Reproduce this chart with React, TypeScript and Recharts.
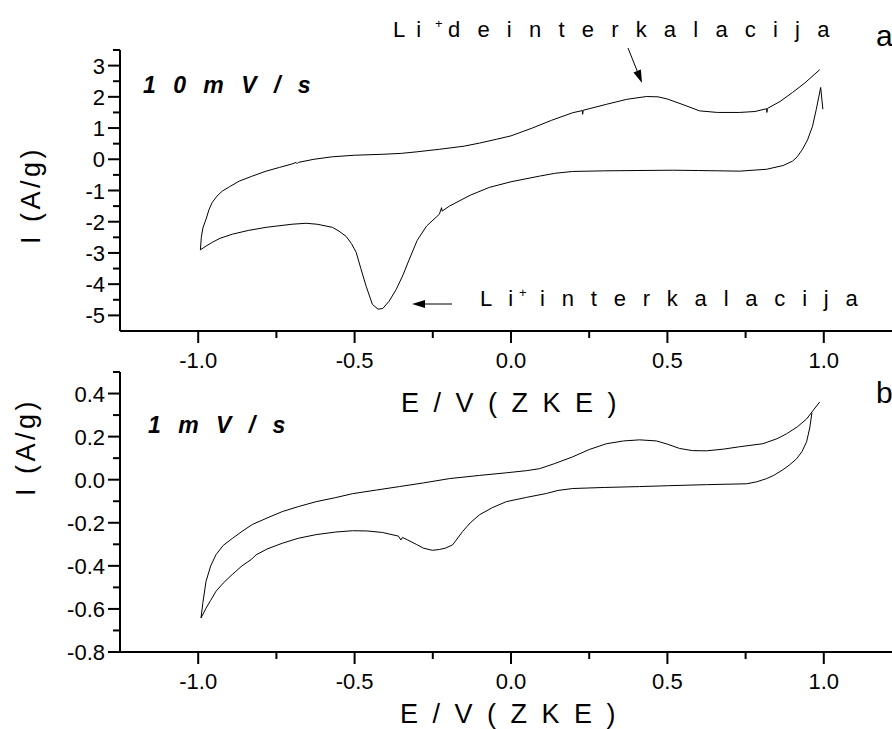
import React from 'react';
import { LineChart, Line, XAxis, YAxis } from 'recharts';

const FONT = '"Liberation Sans", Arial, Helvetica, sans-serif';

// ---------- tick values ----------
const xTicks = [-1, -0.75, -0.5, -0.25, 0, 0.25, 0.5, 0.75, 1];
const xMajor = [-1, -0.5, 0, 0.5, 1];
const topYTicks = [-5, -4.5, -4, -3.5, -3, -2.5, -2, -1.5, -1, -0.5, 0, 0.5, 1, 1.5, 2, 2.5, 3, 3.5];
const topYMajor = [-5, -4, -3, -2, -1, 0, 1, 2, 3];
const botYTicks = [-0.8, -0.7, -0.6, -0.5, -0.4, -0.3, -0.2, -0.1, 0, 0.1, 0.2, 0.3, 0.4, 0.5];
const botYMajor = [-0.8, -0.6, -0.4, -0.2, 0, 0.2, 0.4];

// ---------- 10 mV/s : [E (V), I (A/g)] ----------
const top10Anodic = [
  [-0.993, -2.9], [-0.99, -2.5], [-0.985, -2.2], [-0.975, -1.92], [-0.965, -1.6], [-0.955, -1.38],
  [-0.94, -1.18], [-0.923, -1.02], [-0.9, -0.88], [-0.869, -0.7], [-0.83, -0.55], [-0.783, -0.38],
  [-0.74, -0.26], [-0.7, -0.15], [-0.687, -0.1], [-0.684, -0.14], [-0.68, -0.1], [-0.63, 0.0],
  [-0.571, 0.08], [-0.5, 0.13], [-0.41, 0.16], [-0.35, 0.19], [-0.3, 0.24], [-0.229, 0.32],
  [-0.15, 0.42], [-0.1, 0.52], [-0.047, 0.64], [0.0, 0.75], [0.068, 1.0], [0.13, 1.25],
  [0.197, 1.49], [0.228, 1.56], [0.229, 1.44], [0.231, 1.57], [0.305, 1.76], [0.37, 1.92],
  [0.433, 2.01], [0.47, 2.0], [0.5, 1.93], [0.55, 1.75], [0.603, 1.55], [0.66, 1.5], [0.731, 1.5],
  [0.78, 1.53], [0.817, 1.62], [0.818, 1.5], [0.82, 1.63], [0.86, 1.85], [0.9, 2.14], [0.94, 2.45],
  [0.987, 2.87],
];
const top10Cathodic = [
  [0.997, 1.6], [0.99, 2.3], [0.976, 1.6], [0.964, 1.06], [0.948, 0.62], [0.932, 0.32], [0.915, 0.08],
  [0.9, -0.06], [0.87, -0.2], [0.817, -0.32], [0.731, -0.38], [0.6, -0.36], [0.517, -0.35],
  [0.4, -0.36], [0.3, -0.37], [0.197, -0.39], [0.14, -0.45], [0.091, -0.54], [0.0, -0.72],
  [-0.069, -0.9], [-0.13, -1.15], [-0.197, -1.5], [-0.22, -1.66], [-0.222, -1.55], [-0.229, -1.76],
  [-0.27, -2.14], [-0.3, -2.6], [-0.325, -3.2], [-0.345, -3.7], [-0.367, -4.17], [-0.39, -4.55],
  [-0.41, -4.78], [-0.425, -4.8], [-0.443, -4.65], [-0.463, -4.07], [-0.48, -3.5], [-0.495, -2.98],
  [-0.51, -2.7], [-0.527, -2.47], [-0.55, -2.3], [-0.571, -2.18], [-0.62, -2.08], [-0.655, -2.05],
  [-0.7, -2.08], [-0.783, -2.18], [-0.84, -2.28], [-0.891, -2.4], [-0.93, -2.53], [-0.955, -2.66],
  [-0.975, -2.78], [-0.993, -2.9],
];

// ---------- 1 mV/s : [E (V), I (A/g)] ----------
const bot1Anodic = [
  [-0.991, -0.642], [-0.985, -0.57], [-0.975, -0.472], [-0.96, -0.4], [-0.943, -0.348], [-0.92, -0.305],
  [-0.891, -0.273], [-0.86, -0.24], [-0.827, -0.208], [-0.78, -0.178], [-0.731, -0.148], [-0.68, -0.125],
  [-0.623, -0.102], [-0.56, -0.083], [-0.507, -0.065], [-0.43, -0.048], [-0.357, -0.032], [-0.28, -0.015],
  [-0.197, 0.005], [-0.1, 0.02], [-0.015, 0.032], [0.05, 0.042], [0.091, 0.051], [0.14, 0.075],
  [0.197, 0.106], [0.25, 0.14], [0.305, 0.167], [0.36, 0.18], [0.411, 0.185], [0.465, 0.18],
  [0.5, 0.165], [0.539, 0.145], [0.58, 0.135], [0.625, 0.134], [0.68, 0.142], [0.731, 0.153],
  [0.805, 0.167], [0.85, 0.19], [0.881, 0.213], [0.915, 0.245], [0.945, 0.282], [0.965, 0.32],
  [0.987, 0.361],
];
const bot1Cathodic = [
  [0.962, 0.31], [0.955, 0.24], [0.945, 0.176], [0.93, 0.13], [0.913, 0.097], [0.89, 0.068],
  [0.869, 0.046], [0.84, 0.02], [0.817, 0.005], [0.785, -0.01], [0.753, -0.019], [0.625, -0.023],
  [0.5, -0.028], [0.411, -0.032], [0.3, -0.036], [0.197, -0.041], [0.15, -0.05], [0.113, -0.064],
  [0.05, -0.082], [-0.015, -0.102], [-0.06, -0.13], [-0.101, -0.163], [-0.13, -0.2], [-0.155, -0.241],
  [-0.175, -0.28], [-0.187, -0.303], [-0.21, -0.318], [-0.229, -0.324], [-0.251, -0.328], [-0.28, -0.318],
  [-0.303, -0.3], [-0.33, -0.28], [-0.347, -0.268], [-0.352, -0.28], [-0.36, -0.262], [-0.411, -0.245],
  [-0.46, -0.238], [-0.507, -0.237], [-0.56, -0.243], [-0.623, -0.255], [-0.68, -0.272], [-0.731, -0.295],
  [-0.78, -0.322], [-0.815, -0.349], [-0.83, -0.37], [-0.86, -0.4], [-0.891, -0.44], [-0.92, -0.48],
  [-0.943, -0.518], [-0.96, -0.56], [-0.975, -0.597], [-0.991, -0.642],
];

const toPts = (arr: number[][]) => arr.map(([e, i]) => ({ e, i }));

const isIn = (list: number[], v: number) => list.some((m) => Math.abs(m - v) < 1e-9);

const TICK_FONT = 22;

const XTick = (props: any) => {
  const { x, y, payload } = props;
  const v = payload.value as number;
  const major = isIn(xMajor, v);
  return (
    <g>
      <line x1={x} x2={x} y1={y} y2={y + (major ? 12 : 7)} stroke="#000" strokeWidth={2} />
      {major && (
        <text x={x} y={y + 37} textAnchor="middle" fontSize={TICK_FONT} fontFamily={FONT} fill="#000">
          {v.toFixed(1)}
        </text>
      )}
    </g>
  );
};

const makeYTick = (majors: number[], digits: number) => (props: any) => {
  const { x, y, payload } = props;
  const v = payload.value as number;
  const major = isIn(majors, v);
  return (
    <g>
      <line x1={x} x2={x - (major ? 12 : 7)} y1={y} y2={y} stroke="#000" strokeWidth={2} />
      {major && (
        <text x={x - 15} y={y + 8} textAnchor="end" fontSize={TICK_FONT} fontFamily={FONT} fill="#000">
          {v.toFixed(digits)}
        </text>
      )}
    </g>
  );
};

const TopYTick = makeYTick(topYMajor, 0);
const BotYTick = makeYTick(botYMajor, 1);

const arrowHead = (x0: number, y0: number, x1: number, y1: number, len: number, half: number) => {
  const dx = x1 - x0;
  const dy = y1 - y0;
  const d = Math.sqrt(dx * dx + dy * dy);
  const ux = dx / d;
  const uy = dy / d;
  const bx = x1 - ux * len;
  const by = y1 - uy * len;
  return `${x1},${y1} ${bx - uy * half},${by + ux * half} ${bx + uy * half},${by - ux * half}`;
};

const axisLine = { stroke: '#000', strokeWidth: 2 };

export default function App() {
  return (
    <div
      style={{
        position: 'absolute',
        left: 0,
        top: 0,
        width: 892,
        height: 729,
        overflow: 'hidden',
        background: '#fff',
      }}
    >
      <div style={{ position: 'absolute', left: 0, top: 0 }}>
        <LineChart width={920} height={420} margin={{ top: 50, right: 18, bottom: 0, left: 0 }}>
          <XAxis
            type="number"
            dataKey="e"
            domain={[-1.25, 1.25]}
            ticks={xTicks}
            interval={0}
            tick={XTick}
            tickLine={false}
            tickSize={0}
            tickMargin={0}
            axisLine={axisLine}
            height={89}
            allowDataOverflow
          />
          <YAxis
            type="number"
            dataKey="i"
            domain={[-5.5, 3.5]}
            ticks={topYTicks}
            interval={0}
            tick={TopYTick}
            tickLine={false}
            tickSize={0}
            tickMargin={0}
            axisLine={axisLine}
            width={120}
            allowDataOverflow
          />
          <Line data={toPts(top10Anodic)} dataKey="i" type="linear" stroke="#000" strokeWidth={1} dot={false} isAnimationActive={false} />
          <Line data={toPts(top10Cathodic)} dataKey="i" type="linear" stroke="#000" strokeWidth={1} dot={false} isAnimationActive={false} />
        </LineChart>
      </div>
      <div style={{ position: 'absolute', left: 0, top: 340 }}>
        <LineChart width={920} height={389} margin={{ top: 32, right: 18, bottom: 0, left: 0 }}>
          <XAxis
            type="number"
            dataKey="e"
            domain={[-1.25, 1.25]}
            ticks={xTicks}
            interval={0}
            tick={XTick}
            tickLine={false}
            tickSize={0}
            tickMargin={0}
            axisLine={axisLine}
            height={77}
            allowDataOverflow
          />
          <YAxis
            type="number"
            dataKey="i"
            domain={[-0.8, 0.5]}
            ticks={botYTicks}
            interval={0}
            tick={BotYTick}
            tickLine={false}
            tickSize={0}
            tickMargin={0}
            axisLine={axisLine}
            width={120}
            allowDataOverflow
          />
          <Line data={toPts(bot1Anodic)} dataKey="i" type="linear" stroke="#000" strokeWidth={1} dot={false} isAnimationActive={false} />
          <Line data={toPts(bot1Cathodic)} dataKey="i" type="linear" stroke="#000" strokeWidth={1} dot={false} isAnimationActive={false} />
        </LineChart>
      </div>
      <svg
        width={892}
        height={729}
        style={{ position: 'absolute', left: 0, top: 0, pointerEvents: 'none' }}
        fontFamily={FONT}
      >
        {/* axis titles */}
        <text x={0} y={0} transform="translate(40,195) rotate(-90)" textAnchor="middle" fontSize={27} letterSpacing={3.5} fill="#000">
          I (A/g)
        </text>
        <text x={0} y={0} transform="translate(35,447) rotate(-90)" textAnchor="middle" fontSize={27} letterSpacing={3.5} fill="#000">
          I (A/g)
        </text>
        <text x={401} y={412} fontSize={27} letterSpacing={3.5} fill="#000">
          E / V ( Z K E )
        </text>
        <text x={400} y={723} fontSize={27} letterSpacing={3.5} fill="#000">
          E / V ( Z K E )
        </text>

        {/* scan rate labels */}
        <text x={143} y={93} fontSize={23} fontWeight="bold" fontStyle="italic" letterSpacing={5.5} fill="#000">
          1 0 m V / s
        </text>
        <text x={148} y={433} fontSize={23} fontWeight="bold" fontStyle="italic" letterSpacing={5.5} fill="#000">
          1 m V / s
        </text>

        {/* peak annotations */}
        <text x={393} y={37} fontSize={22} fill="#000">
          L<tspan dx={11}>i</tspan>
          <tspan x={435} dy={-9} fontSize={13}>+</tspan>
          <tspan x={448} dy={9} letterSpacing={17.2}>deinterkalacija</tspan>
        </text>
        <line x1={628} y1={48} x2={638} y2={73} stroke="#000" strokeWidth={1} />
        <polygon points={arrowHead(628, 48, 642, 83, 13, 4)} fill="#000" />

        <text x={480} y={306} fontSize={22} fill="#000">
          L<tspan dx={16}>i</tspan>
          <tspan x={519} dy={-9} fontSize={13}>+</tspan>
          <tspan x={540} dy={9} letterSpacing={16.8}>interkalacija</tspan>
        </text>
        <line x1={452} y1={304} x2={422} y2={304} stroke="#000" strokeWidth={1} />
        <polygon points={arrowHead(452, 304, 412, 304, 13, 4)} fill="#000" />

        {/* panel letters */}
        <text x={876} y={46} fontSize={30} fill="#000">a</text>
        <text x={876} y={403} fontSize={30} fill="#000">b</text>
      </svg>
    </div>
  );
}
